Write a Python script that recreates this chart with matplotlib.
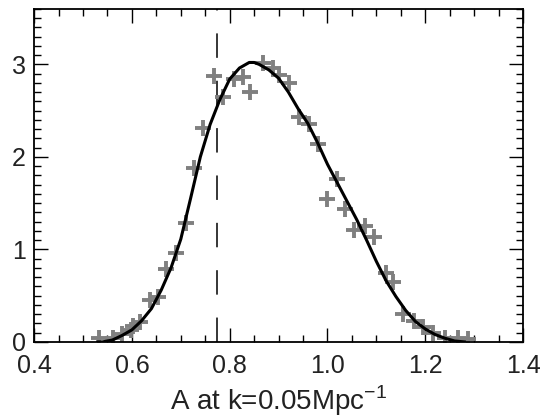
import numpy as np
import matplotlib
matplotlib.use('Agg')
import matplotlib.pyplot as plt
from matplotlib.ticker import MultipleLocator

plt.rcParams['font.family'] = ['Liberation Sans', 'DejaVu Sans']

# binned samples (grey crosses)
amp_pts = [0.533, 0.561, 0.579, 0.598, 0.603, 0.617, 0.637, 0.654, 0.670, 0.690,
           0.711, 0.727, 0.745, 0.767, 0.786, 0.808, 0.828, 0.842, 0.869, 0.889,
           0.900, 0.922, 0.942, 0.962, 0.981, 1.000, 1.019, 1.036, 1.055, 1.077,
           1.095, 1.120, 1.135, 1.155, 1.177, 1.196, 1.215, 1.240, 1.266, 1.287]
like_pts = [0.04, 0.04, 0.09, 0.13, 0.17, 0.22, 0.45, 0.49, 0.79, 0.96,
            1.28, 1.88, 2.31, 2.87, 2.65, 2.84, 2.86, 2.70, 3.01, 2.96,
            2.88, 2.80, 2.43, 2.36, 2.14, 1.54, 1.76, 1.44, 1.21, 1.25,
            1.13, 0.74, 0.65, 0.30, 0.23, 0.16, 0.10, 0.04, 0.04, 0.03]

# smooth fit (black line)
amp_fit = [0.53, 0.54, 0.56, 0.58, 0.60, 0.62, 0.64, 0.66, 0.68, 0.70,
           0.72, 0.74, 0.76, 0.78, 0.80, 0.82, 0.84, 0.85, 0.86, 0.88,
           0.90, 0.92, 0.94, 0.96, 0.98, 1.00, 1.02, 1.04, 1.06, 1.08,
           1.10, 1.12, 1.14, 1.16, 1.18, 1.20, 1.22, 1.24, 1.26, 1.28]
like_fit = [0.0, 0.0, 0.02, 0.07, 0.13, 0.23, 0.36, 0.56, 0.80, 1.11,
            1.55, 2.00, 2.35, 2.62, 2.84, 2.96, 3.02, 3.02, 3.00, 2.94,
            2.85, 2.70, 2.52, 2.36, 2.15, 1.92, 1.72, 1.52, 1.32, 1.10,
            0.87, 0.66, 0.49, 0.34, 0.22, 0.14, 0.08, 0.04, 0.01, 0.0]

amp_ref = 0.774

fig = plt.figure(figsize=(5.5, 4.19), dpi=100)
ax = fig.add_axes([0.062, 0.184, 0.889, 0.795])

ax.plot(amp_pts, like_pts, linestyle='none', marker='+', color='#808080',
        markersize=11, markeredgewidth=2.8, zorder=2)
ax.plot(amp_fit, like_fit, color='black', linewidth=2.2, zorder=3)
ax.axvline(amp_ref, color='black', linewidth=1.1, dashes=(16, 15), zorder=1)

ax.set_xlim(0.4, 1.4)
ax.set_ylim(0, 3.6)
ax.xaxis.set_major_locator(MultipleLocator(0.2))
ax.xaxis.set_minor_locator(MultipleLocator(0.05))
ax.yaxis.set_major_locator(MultipleLocator(1))
ax.yaxis.set_minor_locator(MultipleLocator(0.1))
ax.set_xticklabels(['%.1f' % v for v in ax.get_xticks()])

ax.tick_params(which='both', direction='in', top=True, right=True,
               labelsize=18, labelcolor='#222222', width=1)
ax.tick_params(which='major', length=10)
ax.tick_params(which='minor', length=5)
ax.tick_params(axis='x', which='major', pad=9)
ax.tick_params(axis='y', which='major', pad=6)
for s in ax.spines.values():
    s.set_linewidth(1.3)

ax.set_xlabel('A at k=0.05Mpc$^{\\mathregular{-1}}$', fontsize=20,
              color='#222222', labelpad=4)

fig.savefig('out.png', dpi=100)
